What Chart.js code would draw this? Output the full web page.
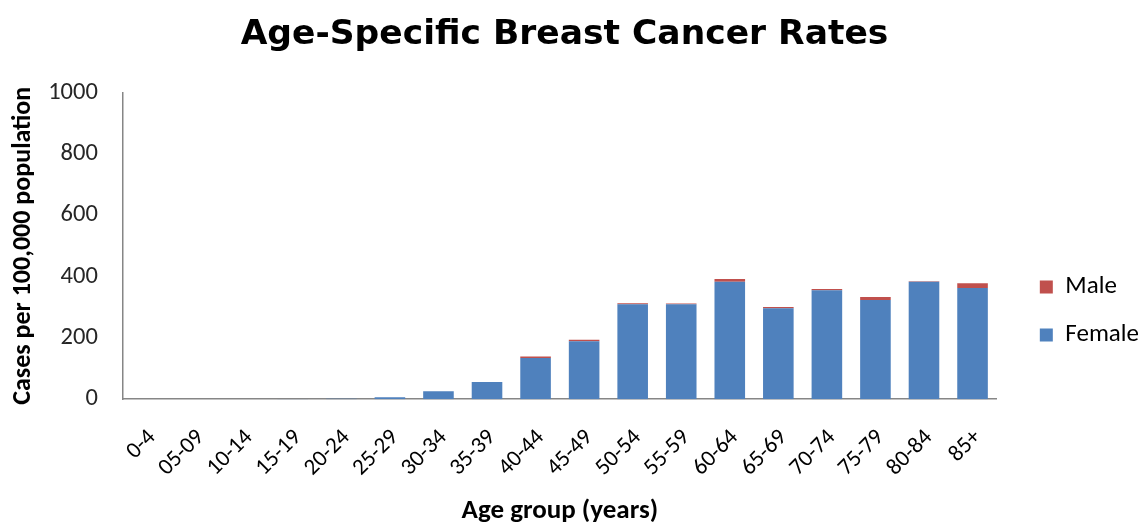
<!DOCTYPE html>
<html>
<head>
<meta charset="utf-8">
<script src="https://cdn.jsdelivr.net/npm/chart.js@4"></script>
<style>
  html, body { margin: 0; padding: 0; background: #fff; }
  #wrap { position: relative; width: 1141px; height: 524px; }
</style>
</head>
<body>
<div id="wrap"><canvas id="c" width="1141" height="524"></canvas></div>
<script>
// age groups and rates per 100,000
const ageGroups = ['0-4', '05-09', '10-14', '15-19', '20-24', '25-29', '30-34', '35-39', '40-44',
  '45-49', '50-54', '55-59', '60-64', '65-69', '70-74', '75-79', '80-84', '85+'];
const femaleRates = [0, 0, 0, 0.3, 1.2, 6, 26, 56, 134, 189, 309, 309, 383, 296, 355, 323, 383, 362];
const maleRates   = [0, 0, 0, 0, 0, 0, 0, 0, 5, 5, 4, 3, 9, 4, 4, 10, 1, 16];
const yTicks = [0, 200, 400, 600, 800, 1000];

const FONT = "Carlito, Calibri, Lato, 'Open Sans', sans-serif";
const BLUE = '#4F81BD';
const RED = '#C0504D';
const AXIS = '#868686';

// nudge the right-hand legend to where Excel placed it
const legendShift = {
  id: 'legendShift',
  afterLayout(chart) {
    const lg = chart.legend;
    if (!lg) return;
    lg.top += 50; lg.bottom += 50;
    lg.left += 20; lg.right += 20;
  }
};

new Chart(document.getElementById('c').getContext('2d'), {
  type: 'bar',
  data: {
    labels: ageGroups,
    datasets: [
      { label: 'Female', data: femaleRates, backgroundColor: BLUE, barPercentage: 0.63, categoryPercentage: 1 },
      { label: 'Male', data: maleRates, backgroundColor: RED, barPercentage: 0.63, categoryPercentage: 1 },
    ],
  },
  options: {
    responsive: false,
    animation: false,
    layout: { padding: { left: 0, right: 12, top: 0, bottom: 2 } },
    plugins: {
      title: {
        display: true,
        text: 'Age-Specific Breast Cancer Rates',
        color: '#000',
        font: { family: "'DejaVu Sans', sans-serif", size: 34.5, weight: 'bold' },
        padding: { top: 14, bottom: 37 },
      },
      legend: {
        display: true, position: 'right', reverse: true,
        labels: {
          boxWidth: 13, boxHeight: 13, color: '#000', padding: 23,
          font: { family: FONT, size: 25 },
        },
      },
      tooltip: { enabled: false },
    },
    scales: {
      x: {
        stacked: true,
        grid: { display: false, drawTicks: false },
        border: { display: true, color: AXIS, width: 1.5 },
        ticks: {
          color: '#000', minRotation: 45, maxRotation: 45, padding: 25, autoSkip: false,
          labelOffset: 5,
          font: { family: FONT, size: 23 },
        },
        title: {
          display: true, text: 'Age group (years)', color: '#000',
          font: { family: FONT, size: 27, weight: 'bold' }, padding: { top: -12, bottom: -5 },
        },
      },
      y: {
        stacked: true,
        min: 0, max: 1000,
        afterBuildTicks: axis => { axis.ticks = yTicks.map(v => ({ value: v })); },
        grid: { display: false, drawTicks: false },
        border: { display: true, color: AXIS, width: 1.5 },
        ticks: {
          color: '#262626', padding: 25,
          font: { family: FONT, size: 24.5 },
          callback: v => String(v),
        },
        title: {
          display: true, text: 'Cases per 100,000 population', color: '#000',
          font: { family: FONT, size: 26, weight: 'bold' }, padding: { top: 8, bottom: -16 },
        },
      },
    },
  },
  plugins: [legendShift],
});
</script>
</body>
</html>
